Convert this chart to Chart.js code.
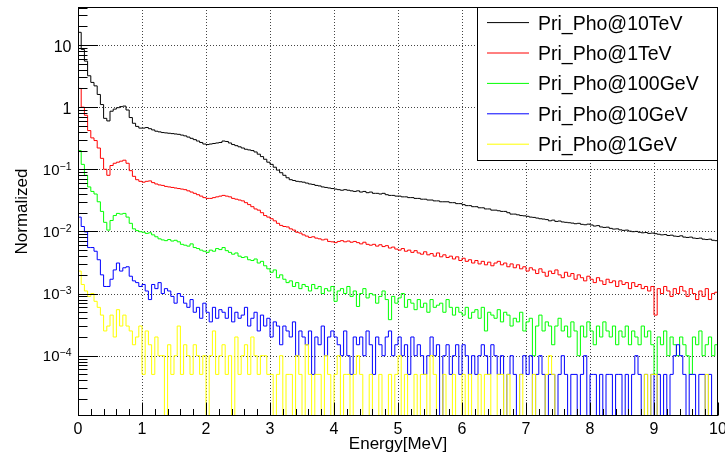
<!DOCTYPE html>
<html>
<head>
<meta charset="utf-8">
<title>Pri_Pho energy spectra</title>
<script src="https://cdn.jsdelivr.net/npm/chart.js@4.4.1/dist/chart.umd.min.js"></script>
<style>
    html, body { margin: 0; padding: 0; background: #ffffff; }
    canvas { display: block; }
</style>
</head>
<body>
<canvas id="energyChart" width="725" height="457"></canvas>
<script>
// Histogramas normalizados: 200 bins de 0.05 MeV entre 0 y 10 MeV
const binWidth = 0.05;
const xRange = [0, 10];
const yRange = [1.07e-5, 40.9];
const zeroFloor = 1e-6; // bins vacios: se dibujan hasta el eje

// Ejes y etiquetas
const xTickLabels = ['0', '1', '2', '3', '4', '5', '6', '7', '8', '9', '10'];
const yDecades = [10, 1, 0.1, 0.01, 0.001, 0.0001];
const yDecadeBase = ['10', '1', '10', '10', '10', '10'];
const yDecadeExp = ['', '', '\u22121', '\u22122', '\u22123', '\u22124'];
const xTitle = 'Energy[MeV]';
const yTitle = 'Normalized';

// Series
const seriesNames = ['Pri_Pho@10TeV', 'Pri_Pho@1TeV', 'Pri_Pho@100GeV', 'Pri_Pho@10GeV', 'Pri_Pho@1GeV'];
const seriesColors = ['#000000', '#ff0000', '#00ff00', '#0000ff', '#ffff00'];

const pho10TeV = [
    16, 8.5, 5.5, 3.2, 2.5, 2.2, 1.6, 1.1, 0.66, 0.6, 0.86, 0.93, 0.98, 1.02, 1.04, 0.9, 0.68, 0.55, 0.49, 0.46,
    0.46, 0.47, 0.45, 0.43, 0.41, 0.40, 0.39, 0.385, 0.38, 0.375, 0.37, 0.365, 0.355, 0.345, 0.33, 0.315, 0.30, 0.285, 0.27, 0.255,
    0.25, 0.255, 0.26, 0.265, 0.27, 0.285, 0.28, 0.265, 0.25, 0.24, 0.23, 0.22, 0.21, 0.205, 0.2, 0.19, 0.175, 0.16, 0.145, 0.13,
    0.12, 0.108, 0.097, 0.088, 0.08, 0.073, 0.068, 0.066, 0.064, 0.063, 0.062, 0.060, 0.058, 0.057, 0.055, 0.054, 0.052, 0.051, 0.050, 0.049,
    0.048, 0.047, 0.046, 0.047, 0.046, 0.045, 0.044, 0.045, 0.043, 0.044, 0.042, 0.043, 0.041, 0.041, 0.040, 0.041, 0.039, 0.038, 0.038, 0.037,
    0.037, 0.036, 0.036, 0.035, 0.035, 0.034, 0.034, 0.033, 0.033, 0.032, 0.032, 0.031, 0.031, 0.030, 0.030, 0.030, 0.029, 0.029, 0.028, 0.028,
    0.027, 0.026, 0.026, 0.025, 0.025, 0.024, 0.024, 0.023, 0.023, 0.022, 0.022, 0.0215, 0.021, 0.021, 0.020, 0.019, 0.019, 0.0185, 0.018, 0.0178,
    0.0175, 0.017, 0.0168, 0.0164, 0.016, 0.0158, 0.0155, 0.0148, 0.0152, 0.0145, 0.0147, 0.0142, 0.014, 0.0138, 0.0136, 0.0133, 0.0135, 0.013, 0.0128, 0.0131,
    0.0127, 0.0122, 0.0124, 0.0118, 0.0116, 0.0117, 0.0112, 0.0109, 0.011, 0.0106, 0.0104, 0.0105, 0.0101, 0.0099, 0.0100, 0.0097, 0.0095, 0.0096, 0.0093, 0.0094,
    0.0092, 0.009, 0.0088, 0.0089, 0.0086, 0.0087, 0.0084, 0.0083, 0.0085, 0.0081, 0.008, 0.0081, 0.0078, 0.0077, 0.0078, 0.0075, 0.0074, 0.0075, 0.0072, 0.0071
];

const pho1TeV = [
    2.0, 1.0, 0.74, 0.42, 0.32, 0.29, 0.22, 0.15, 0.1, 0.08, 0.115, 0.125, 0.13, 0.135, 0.14, 0.125, 0.095, 0.077, 0.068, 0.064,
    0.062, 0.064, 0.065, 0.061, 0.058, 0.056, 0.055, 0.053, 0.052, 0.051, 0.050, 0.049, 0.048, 0.047, 0.045, 0.043, 0.041, 0.039, 0.037, 0.035,
    0.034, 0.034, 0.035, 0.036, 0.037, 0.038, 0.037, 0.036, 0.034, 0.033, 0.032, 0.031, 0.029, 0.027, 0.025, 0.023, 0.022, 0.02, 0.018, 0.017,
    0.016, 0.0148, 0.0135, 0.0125, 0.012, 0.0118, 0.011, 0.0105, 0.0097, 0.0094, 0.0088, 0.0084, 0.008, 0.0082, 0.0078, 0.0076, 0.0073, 0.0075, 0.0069, 0.0068,
    0.0066, 0.0069, 0.0071, 0.0068, 0.0070, 0.0067, 0.0069, 0.0066, 0.0063, 0.0067, 0.0062, 0.0060, 0.0062, 0.0058, 0.0061, 0.0057, 0.0059, 0.0054, 0.0056, 0.0052,
    0.0050, 0.0053, 0.0048, 0.0050, 0.0046, 0.0049, 0.0045, 0.0043, 0.0047, 0.0042, 0.0044, 0.0040, 0.0045, 0.0039, 0.0042, 0.0038, 0.0040, 0.0036, 0.0039, 0.0034,
    0.0037, 0.0033, 0.0035, 0.0031, 0.0034, 0.0030, 0.0033, 0.0029, 0.0032, 0.0028, 0.0031, 0.0033, 0.0029, 0.0031, 0.0027, 0.0030, 0.0026, 0.0029, 0.0025, 0.0027,
    0.0023, 0.0026, 0.0024, 0.0021, 0.0025, 0.0022, 0.0019, 0.0023, 0.0021, 0.0024, 0.0020, 0.0018, 0.0022, 0.0019, 0.0021, 0.0017, 0.0020, 0.0018, 0.0016, 0.0019,
    0.0017, 0.0015, 0.0018, 0.0016, 0.0014, 0.0017, 0.0015, 0.0016, 0.0013, 0.0016, 0.0014, 0.0015, 0.0012, 0.0015, 0.0013, 0.0014, 0.0012, 0.0013, 0.0011, 0.0013,
    0.00045, 0.0012, 0.0010, 0.0013, 0.0011, 0.0009, 0.0012, 0.0010, 0.0013, 0.0011, 0.0009, 0.0012, 0.0010, 0.0008, 0.0011, 0.0009, 0.0012, 0.0008, 0.0010, 0.00105
];

const pho100GeV = [
    0.2, 0.12, 0.08, 0.052, 0.044, 0.04, 0.03, 0.021, 0.014, 0.0105, 0.015, 0.018, 0.0195, 0.019, 0.0195, 0.017, 0.0135, 0.011, 0.0103, 0.0099,
    0.0097, 0.0093, 0.0095, 0.0088, 0.0082, 0.0076, 0.0073, 0.0071, 0.0074, 0.0070, 0.0072, 0.0068, 0.0062, 0.0060, 0.0058, 0.0063, 0.0055, 0.0053, 0.0050, 0.0048,
    0.0046, 0.0050, 0.0048, 0.0053, 0.0051, 0.0055, 0.0049, 0.0046, 0.0043, 0.0045, 0.0040, 0.0038, 0.0039, 0.0035, 0.0034, 0.0036, 0.0031, 0.0033, 0.0028, 0.0025,
    0.0022, 0.0024, 0.0018, 0.0020, 0.0017, 0.0015, 0.0016, 0.0013, 0.0015, 0.0012, 0.0014, 0.0013, 0.0011, 0.0014, 0.0012, 0.0013, 0.0010, 0.0012, 0.0011, 0.0013,
    0.00075, 0.0011, 0.0012, 0.0010, 0.0013, 0.0009, 0.0011, 0.00062, 0.0010, 0.0012, 0.00085, 0.0010, 0.00095, 0.0007, 0.0009, 0.0011, 0.0008, 0.00038, 0.0009, 0.0007,
    0.00085, 0.0010, 0.0006, 0.0008, 0.0007, 0.00055, 0.0008, 0.0006, 0.0007, 0.0005, 0.0008, 0.0006, 0.00065, 0.0007, 0.0005, 0.0008, 0.0006, 0.00045, 0.0006, 0.0005,
    0.00045, 0.0006, 0.0004, 0.0005, 0.00055, 0.0004, 0.0006, 0.00025, 0.0005, 0.00045, 0.0004, 0.00055, 0.00035, 0.0005, 0.00045, 0.0003, 0.0004, 0.00035, 0.0005, 0.00025,
    0.00035, 0.0004, 0.0001, 0.0003, 0.00045, 0.00025, 0.00035, 0.0003, 0.00015, 0.0003, 0.0004, 0.00025, 0.0003, 0.0002, 0.00035, 0.00025, 0.0001, 0.0003, 0.0002, 0.00035,
    0.00025, 0.00015, 0.0003, 0.0002, 0.00035, 0.00025, 0.0002, 0.0003, 0.00015, 0.00025, 0.0002, 0.0003, 0.00015, 0.00025, 0.0002, 0.00015, 0.0003, 0.0002, 0.00025, 0.00015,
    0.00005, 0.0002, 0.00015, 0.00025, 0.0001, 0.0002, 0.00015, 0.0001, 0.0002, 0.00015, 0.0001, 0.00005, 0.0002, 0.00015, 0.00025, 0.0001, 0.00015, 0.0002, 0.0001, 0.00015
];

const pho10GeV = [
    0.017, 0.012, 0.0098, 0.0055, 0.0055, 0.0048, 0.0035, 0.002, 0.0013, 0.0013, 0.0017, 0.0024, 0.0031, 0.0023, 0.0026, 0.0027, 0.0019, 0.0016, 0.0015, 0.0013,
    0.0014, 0.0011, 0.0008, 0.0014, 0.0012, 0.0015, 0.0010, 0.0012, 0.0011, 0.0009, 0.0007, 0.0010, 0.0009, 0.0007, 0.0006, 0.0008, 0.0005, 0.0006, 0.0004, 0.0007,
    0.0005, 0.00035, 0.0006, 0.0004, 0.00055, 0.0005, 0.0004, 0.0006, 0.00035, 0.0005, 0.0004, 0.00045, 0.0006, 0.0003, 0.0004, 0.0005, 0.00025, 0.00045, 0.0003, 0.0004,
    0.0002, 0.00035, 0.0003, 0.00015, 0.0003, 0.00025, 0.0002, 0.00035, 0.0001, 0.00025, 0.0002, 0.00015, 0.00025, 0.00005, 0.0002, 0.00015, 0.0003, 0.0001, 0.0002, 0.00025,
    0.0002, 0.00015, 0.0001, 0.00025, 0.0001, 0.00005, 0.0002, 0.00015, 0.0002, 0.0001, 0.00025, 0.00015, 0.00005, 0.0002, 0.00015, 0.0001, 0.0002, 0.00025, 0.0001, 0.00015,
    0.0002, 0.0001, 0.00015, 0.00005, 0.0002, 0.0001, 0.00015, 0.0001, 0.00005, 0.0001, 0.0002, 0.0001, 0.00015, 0, 0.0001, 0.00015, 0.00005, 0.0001, 0.00015, 0.00005,
    0.00015, 0.0001, 0.00005, 0.0001, 0.00005, 0.0001, 0.00015, 0.0001, 0.00005, 0.00015, 0.0001, 0.00005, 0.0001, 0, 0.00005, 0.0001, 0.00005, 0, 0.00005, 0.0001,
    0.00005, 0.0001, 0, 0.00005, 0.0001, 0.00005, 0, 0.00005, 0.00005, 0, 0.00005, 0.0001, 0.00005, 0, 0.00005, 0.00005, 0, 0.00005, 0.0001, 0,
    0.00005, 0.00005, 0, 0.00005, 0, 0.00005, 0.00005, 0, 0.00005, 0.00005, 0, 0.00005, 0, 0.00005, 0.0001, 0.00005, 0, 0.00005, 0, 0.00005,
    0, 0.00005, 0, 0.00005, 0, 0.00005, 0.0001, 0.00015, 0.0001, 0.00005, 0, 0.00005, 0.00005, 0, 0.00005, 0.00005, 0, 0.00005, 0, 0
];

const pho1GeV = [
    0.0023, 0.0014, 0.0011, 0.0009, 0.001, 0.00075, 0.0006, 0.00045, 0.00025, 0.0003, 0.00045, 0.0002, 0.00055, 0.0003, 0.00045, 0.0003, 0.00025, 0.00015, 0.0002, 0.0003,
    0.00005, 0.00025, 0.00015, 0.00005, 0.0002, 0.0001, 0.0001, 0, 0.00015, 0.00005, 0.0001, 0.0003, 0.00005, 0.00015, 0.0001, 0.00005, 0.00015, 0.0001, 0.00005, 0.0001,
    0, 0.0001, 0.00025, 0.00005, 0.0001, 0.00015, 0.00005, 0.0001, 0, 0.0002, 0.00005, 0.0001, 0.00015, 0.00005, 0.0002, 0.0001, 0.00005, 0.0001, 0.0001, 0.00005,
    0.00005, 0, 0.00005, 0.0001, 0, 0.00005, 0.00005, 0, 0.0001, 0.00005, 0, 0.00015, 0.00005, 0, 0.00005, 0.00005, 0, 0.0001, 0.00005, 0,
    0.00005, 0.0001, 0, 0.00005, 0.00005, 0, 0.00005, 0.0001, 0.00005, 0, 0, 0.00005, 0, 0, 0.00005, 0, 0, 0.00005, 0, 0.00005,
    0.0001, 0, 0.00005, 0, 0, 0.00005, 0, 0.00005, 0.00005, 0, 0.0001, 0.00005, 0, 0, 0.00005, 0, 0, 0.00005, 0, 0,
    0.00005, 0, 0.00005, 0, 0, 0.00005, 0, 0.00005, 0.00005, 0, 0, 0.00005, 0.00005, 0, 0.00005, 0, 0, 0, 0.00005, 0,
    0, 0, 0.00005, 0, 0, 0, 0.00005, 0.0001, 0.00005, 0, 0, 0, 0, 0, 0, 0, 0, 0, 0, 0,
    0, 0, 0, 0, 0, 0, 0, 0, 0, 0, 0, 0, 0, 0, 0, 0, 0, 0.00005, 0, 0.00005,
    0.00005, 0, 0, 0, 0, 0, 0, 0, 0, 0, 0, 0, 0, 0, 0, 0, 0.00005, 0, 0, 0
];

const seriesValues = [pho10TeV, pho1TeV, pho100GeV, pho10GeV, pho1GeV];

const fontFamily = "'Liberation Sans', Arial, Helvetica, sans-serif";

// Convierte un histograma a puntos (borde inferior de cada bin + borde final)
function toPoints(values) {
    const points = values.map((v, i) => ({ x: i * binWidth, y: v > 0 ? v : zeroFloor }));
    points.push({ x: values.length * binWidth, y: points[points.length - 1].y });
    return points;
}

// Marco, rejilla, marcas y leyenda al estilo ROOT
const rootStyle = {
    id: 'rootStyle',
    beforeDatasetsDraw(chart) {
        const { ctx, chartArea: area, scales } = chart;
        const xs = scales.x;
        const ys = scales.y;
        ctx.save();
        ctx.strokeStyle = '#444444';
        ctx.lineWidth = 1;
        ctx.setLineDash([1, 2]);
        ctx.beginPath();
        xTickLabels.forEach((label, i) => {
            if (i === 0 || i === xTickLabels.length - 1) return;
            const px = Math.round(xs.getPixelForValue(i)) + 0.5;
            ctx.moveTo(px, area.top);
            ctx.lineTo(px, area.bottom);
        });
        yDecades.forEach(v => {
            const py = Math.round(ys.getPixelForValue(v)) + 0.5;
            ctx.moveTo(area.left, py);
            ctx.lineTo(area.right, py);
        });
        ctx.stroke();
        ctx.restore();
    },
    afterDatasetsDraw(chart) {
        const { ctx, chartArea: area, scales } = chart;
        const xs = scales.x;
        const ys = scales.y;
        const left = area.left + 0.5;
        const bottom = area.bottom - 0.5;

        ctx.save();
        ctx.strokeStyle = '#000000';
        ctx.lineWidth = 1;

        // Marco
        ctx.strokeRect(left, area.top + 0.5, area.width - 1, area.height - 1);

        // Marcas del eje X (mayores cada 1 MeV, menores cada 0.2 MeV)
        ctx.beginPath();
        for (let i = 0; i <= 50; i++) {
            const px = Math.round(xs.getPixelForValue(i * 0.2)) + 0.5;
            const len = i % 5 === 0 ? 13 : 6.5;
            ctx.moveTo(px, bottom);
            ctx.lineTo(px, bottom - len);
        }
        // Marcas del eje Y (logaritmico)
        for (let e = -5; e <= 1; e++) {
            for (let k = 1; k <= 9; k++) {
                const v = k * Math.pow(10, e);
                if (v < ys.min || v > ys.max) continue;
                const py = Math.round(ys.getPixelForValue(v)) + 0.5;
                ctx.moveTo(left, py);
                ctx.lineTo(left + (k === 1 ? 19.5 : 9), py);
            }
        }
        ctx.stroke();

        // Etiquetas del eje X
        ctx.fillStyle = '#000000';
        ctx.font = '16px ' + fontFamily;
        ctx.textAlign = 'center';
        ctx.textBaseline = 'alphabetic';
        xTickLabels.forEach((label, i) => {
            ctx.fillText(label, xs.getPixelForValue(i), area.bottom + 18);
        });

        // Etiquetas del eje Y con exponentes
        const labelRight = area.left - 6.5;
        yDecades.forEach((v, i) => {
            const py = ys.getPixelForValue(v);
            ctx.textAlign = 'right';
            if (yDecadeExp[i] === '') {
                ctx.font = '16px ' + fontFamily;
                ctx.fillText(yDecadeBase[i], labelRight, py + 6.5);
            } else {
                ctx.font = '10.5px ' + fontFamily;
                const expWidth = ctx.measureText(yDecadeExp[i]).width;
                ctx.fillText(yDecadeExp[i], labelRight, py + 0.5);
                ctx.font = '15px ' + fontFamily;
                ctx.fillText(yDecadeBase[i], labelRight - expWidth, py + 5.5);
            }
        });

        // Titulos de ejes
        ctx.font = '17px ' + fontFamily;
        ctx.textAlign = 'center';
        ctx.fillText(xTitle, (area.left + area.right) / 2, area.bottom + 32.5);
        ctx.translate(27, (area.top + area.bottom) / 2);
        ctx.rotate(-Math.PI / 2);
        ctx.fillText(yTitle, 0, 0);
        ctx.setTransform(1, 0, 0, 1, 0, 0);

        // Leyenda
        const boxLeft = 477.5;
        const boxTop = area.top + 0.5;
        const boxRight = area.right - 0.5;
        const boxBottom = 160.5;
        ctx.fillStyle = '#ffffff';
        ctx.fillRect(boxLeft, boxTop, boxRight - boxLeft, boxBottom - boxTop);
        ctx.strokeStyle = '#000000';
        ctx.strokeRect(boxLeft, boxTop, boxRight - boxLeft, boxBottom - boxTop);

        ctx.font = '19.5px ' + fontFamily;
        ctx.textAlign = 'left';
        seriesNames.forEach((name, i) => {
            const rowY = 22.6 + i * 30.4;
            ctx.strokeStyle = seriesColors[i];
            ctx.beginPath();
            ctx.moveTo(487, rowY);
            ctx.lineTo(529, rowY);
            ctx.stroke();
            ctx.fillStyle = '#000000';
            ctx.fillText(name, 538, rowY + 7);
        });
        ctx.restore();
    }
};

document.addEventListener('DOMContentLoaded', function () {
    const ctx = document.getElementById('energyChart').getContext('2d');

    const datasets = seriesNames.map((name, i) => ({
        label: name,
        data: toPoints(seriesValues[i]),
        borderColor: seriesColors[i],
        backgroundColor: 'transparent',
        borderWidth: 1,
        stepped: true,
        pointRadius: 0,
        fill: false,
        order: seriesNames.length - i
    }));

    new Chart(ctx, {
        type: 'line',
        data: { datasets: datasets },
        options: {
            responsive: false,
            animation: false,
            events: [],
            layout: {
                padding: { left: 78, top: 7, right: 7, bottom: 41 }
            },
            plugins: {
                legend: { display: false },
                tooltip: { enabled: false }
            },
            scales: {
                x: { type: 'linear', min: xRange[0], max: xRange[1], display: false },
                y: { type: 'logarithmic', min: yRange[0], max: yRange[1], display: false }
            }
        },
        plugins: [rootStyle]
    });
});
</script>
</body>
</html>
